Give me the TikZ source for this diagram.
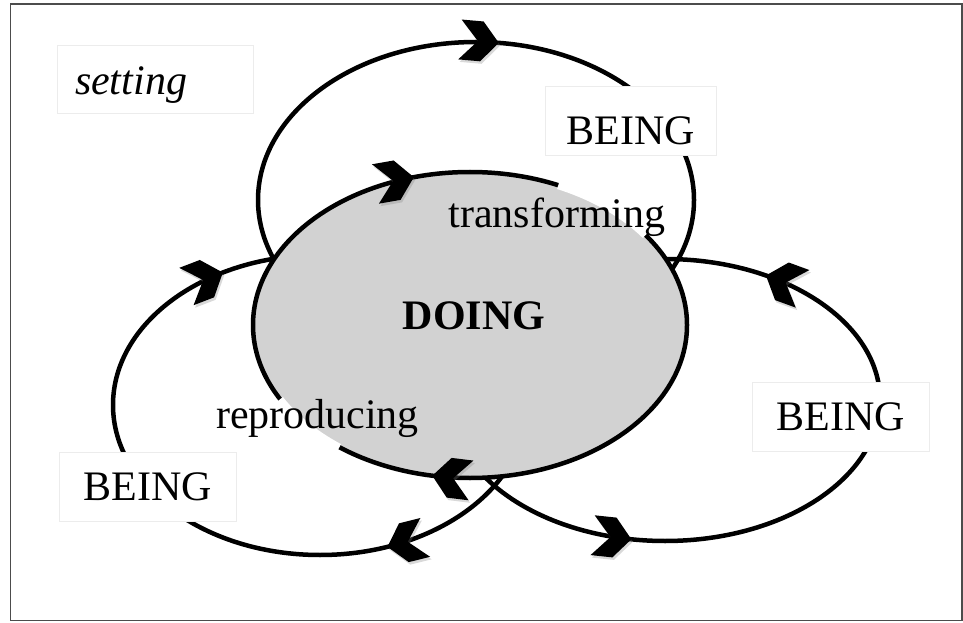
\documentclass[tikz,border=0pt]{standalone}
\usepackage{fontspec}
\setmainfont{Liberation Serif}
\usetikzlibrary{calc,shadows}

\tikzset{
  loop line/.style={line width=4.5pt},
  being box/.style={draw=gray!15, line width=0.8pt, fill=white, inner sep=0pt},
  chev/.pic={
    \fill[drop shadow={shadow xshift=1.5pt, shadow yshift=-2.5pt, opacity=0.3}]
      (0,0) -- (-17,20) -- (-39,20) -- (-21,0) -- (-39,-20) -- (-17,-20) -- cycle;
  }
}

\begin{document}
\begin{tikzpicture}[x=1pt, y=1pt, font=\fontsize{42}{50}\selectfont]
  \useasboundingbox (0,0) rectangle (963,622);
  % frame
  \draw[black!70, line width=1.5pt] (10.5,1.5) rectangle (962,618);
  % centres of the loops
  \coordinate (topc) at (476,422);
  \coordinate (rightc) at (665,222);
  \coordinate (leftc) at (320,217);
  \coordinate (doingc) at (470,297);
  % the three BEING loops
  \draw[loop line] (topc) ellipse [x radius=218, y radius=158];
  \draw[loop line] (rightc) ellipse [x radius=215, y radius=141];
  \draw[loop line] (leftc) ellipse [x radius=207, y radius=150];
  % DOING on top
  \draw[loop line, fill=gray!35] (doingc) ellipse [x radius=217, y radius=153];
  % gaps under the two labels
  \draw[white, line width=8pt] ($(doingc)+(36:217 and 153)$)
    arc [start angle=36, end angle=66, x radius=217, y radius=153];
  \draw[white, line width=7pt] ($(doingc)+(209:217 and 153)$)
    arc [start angle=209, end angle=233, x radius=217, y radius=153];
  % arrows
  \pic[rotate=-5] at ($(topc)+(84:218 and 158)$) {chev};
  \pic[rotate=10] at ($(doingc)+(105:217 and 153)$) {chev};
  \pic[rotate=173] at ($(doingc)+(260:217 and 153)$) {chev};
  \pic[rotate=160] at ($(rightc)+(62:215 and 141)$) {chev};
  \pic[rotate=-6] at ($(rightc)+(-99:215 and 141)$) {chev};
  \pic[rotate=21] at ($(leftc)+(118:207 and 150)$) {chev};
  \pic[rotate=194] at ($(leftc)+(-71:207 and 150)$) {chev};
  % labels
  \node[being box, anchor=base, text width=160pt, inner xsep=18pt,
        text height=50pt, text depth=18pt] (setting) at (155,527) {\itshape setting};
  \node[being box, anchor=base, minimum width=171pt,
        text height=59pt, text depth=10pt] (beingtop) at (630.5,477) {BEING};
  \node[being box, minimum width=177pt, minimum height=69pt] (beingright) at (840.5,205.5) {BEING};
  \node[being box, minimum width=177pt, minimum height=69pt] (beingleft) at (147.5,135.5) {BEING};
  \node[font=\fontsize{42}{50}\selectfont\bfseries] (doing) at (474,306) {DOING};
  \node[anchor=base] (transf) at (557,394) {transforming};
  \node[anchor=base] (reprod) at (317.5,194) {reproducing};
\end{tikzpicture}
\end{document}
